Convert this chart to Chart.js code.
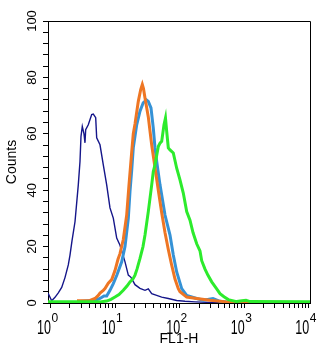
<!DOCTYPE html>
<html><head><meta charset="utf-8">
<script src="https://cdn.jsdelivr.net/npm/chart.js@4.4.1/dist/chart.umd.min.js"></script>
<style>html,body{margin:0;padding:0;background:#fff;}canvas{display:block;}</style>
</head><body>
<canvas id="c" width="329" height="354"></canvas>
<script>
const FONT = '"Liberation Sans", Arial, Helvetica, sans-serif';

// X tick decades (labels 10^n) and y tick labels
const xDecades = [0, 1, 2, 3, 4];
const yLabels = [0, 20, 40, 60, 80, 100];

// Series: FL1-H values (x) and counts (y)
const navyX = [0.915,1.044,1.174,1.321,1.491,1.677,1.887,2.005,2.153,2.397,2.696,2.864,2.969,3.110,3.304,3.423,3.510,3.850,4.348,4.604,5.014,5.196,5.846,6.577,7.424,8.351,9.396,10.61,11.93,14.27,16.05,17.66,20.38,24.35,29.11,32.74,36.97,44.18,52.80,66.84,90.2,121.2,173.2,295.8,603.5,1760,10474];
const navyY = [3.5,0.8,2.0,3.6,5.5,9,13.5,17,22,28.8,41.9,50.2,59.1,62.6,60,56.8,61.5,63.2,66.8,67.0,65.7,58.6,56.1,49.0,41.9,33.7,30.1,23.0,20.5,14.6,9.9,9.1,6.5,5.2,4.5,5.0,3.3,2.7,2.1,1.6,0.9,0.6,0.4,0.2,0.05,0,0];

const lightBlueX = [2.864,4.891,5.846,6.742,7.424,8.351,9.396,10.72,12.68,14.27,16.05,17.04,18.11,19.17,21.64,24.35,27.30,30.71,32.74,36.05,39.14,41.59,44.18,49.72,59.40,71.03,79.88,90.17,107.8,128.8,184.0,232.9,329.2,422.6,536.6,862.5,10474];
const lightBlueY = [0.5,1.0,1.6,2.5,2.5,4.5,6.9,10,14.6,20,30,39.5,47,55,63.2,68,71,72,71.5,69.2,62,55,50.2,41.9,31.2,24.1,17,11,5.1,2.7,1.6,1.0,1.6,0.6,0.4,0.1,0];

const orangeX = [2.573,4.092,4.891,5.502,5.846,6.577,6.988,7.860,8.875,9.98,11.11,11.93,13.42,15.15,16.4,18.11,19.17,20.38,22.92,24.97,26.43,27.59,29.11,30.93,32.74,34.79,36.97,41.59,46.78,52.80,59.40,66.84,75.44,84.87,95.48,101.4,128.8,184.0,295.8,536.6,862.5,10474];
const orangeY = [0.8,0.9,1.6,2.7,3.5,4.5,5.1,7.0,8.3,11.5,15.5,17.5,22.5,31.2,41.5,53.5,60,63.5,71.5,75.7,77.5,76,72.7,69.2,66,61,56,48,40,32,25,19,13.4,8.5,5.1,4.0,2.1,1.6,1.0,0.4,0.1,0];

const greenX = [0.915,5.846,7.424,8.656,9.98,11.51,13.42,15.31,17.04,19.17,20.38,21.88,24.35,27.10,29.11,32.74,36.97,39.14,41.59,46.78,49.72,52.80,57.32,60.46,63.11,66.84,71.03,79.88,90.17,101.4,114.1,128.8,144.9,161.3,184.0,207.0,220.0,247.5,275.4,314.4,375.7,422.6,487.4,568.2,766.6,926.1,1068,1232,10474];
const greenY = [0.4,0.4,0.7,1.3,2.1,3.0,4.5,6.0,7.5,8.7,9.9,12,15.8,20,24.1,32.4,41.9,46.6,49,55.5,56.7,57.3,63.2,65.6,60.9,55,54.3,53.2,47.8,43.7,39,32.4,29.4,25,21,18.5,15,12,9.8,7.5,5,3.3,2.2,1.2,0.5,0.8,1.0,0.5,0.4];

const pts = (xs, ys) => xs.map((x, i) => ({x: x, y: ys[i]}));

// log minor ticks 1..9 per decade
const xTickValues = [];
xDecades.forEach(p => {
  if (p === xDecades[xDecades.length - 1]) { xTickValues.push(Math.pow(10, p)); return; }
  for (let k = 1; k <= 9; k++) xTickValues.push(k * Math.pow(10, p));
});

const frameAndLabels = {
  id: 'frameAndLabels',
  afterDraw(chart) {
    const {ctx, chartArea: a, scales: {x}} = chart;
    ctx.save();
    ctx.strokeStyle = '#000';
    ctx.lineWidth = 1;
    ctx.beginPath();
    ctx.moveTo(Math.round(a.left), Math.round(a.top) + 0.5);
    ctx.lineTo(Math.round(a.right) + 0.5, Math.round(a.top) + 0.5);
    ctx.lineTo(Math.round(a.right) + 0.5, Math.round(a.bottom));
    ctx.stroke();
    ctx.fillStyle = '#000';
    ctx.textBaseline = 'alphabetic';
    xDecades.forEach(p => {
      const px = x.getPixelForValue(Math.pow(10, p));
      ctx.save();
      ctx.translate(px + 0.5, 334);
      ctx.scale(1, 1.64);
      ctx.font = '12.5px ' + FONT;
      ctx.textAlign = 'right';
      ctx.fillText('10', 0, 0);
      ctx.restore();
      ctx.font = '12px ' + FONT;
      ctx.textAlign = 'left';
      ctx.fillText(String(p), px + 1, 322);
    });
    ctx.restore();
  }
};

const lineDs = (label, xs, ys, color, width, order) => ({
  label: label, data: pts(xs, ys), showLine: true, borderColor: color, backgroundColor: color,
  borderWidth: width, pointRadius: 0, tension: 0, order: order, fill: false
});

new Chart(document.getElementById('c'), {
  type: 'scatter',
  data: {
    datasets: [
      lineDs('green', greenX, greenY, '#2CEB2C', 3, 0),
      lineDs('orange', orangeX, orangeY, '#EE7624', 3, 1),
      lineDs('lightblue', lightBlueX, lightBlueY, '#3592D6', 3, 2),
      lineDs('navy', navyX, navyY, '#15168A', 1.4, 3)
    ]
  },
  options: {
    responsive: false,
    animation: false,
    devicePixelRatio: 1,
    layout: {padding: {top: 21, right: 19, left: 0, bottom: 0}},
    plugins: {legend: {display: false}, tooltip: {enabled: false}},
    scales: {
      x: {
        type: 'logarithmic', min: 0.915, max: 10474,
        afterBuildTicks: s => { s.ticks = xTickValues.map(v => ({value: v})); },
        afterFit: s => { s.height = 51; },
        ticks: {display: false},
        grid: {display: true, drawOnChartArea: false, drawTicks: true, tickLength: 5, color: '#000', tickColor: '#000', tickWidth: 1},
        border: {display: true, color: '#000', width: 1},
        title: {display: true, text: 'FL1-H', color: '#000', font: {family: FONT, size: 14}, padding: {top: 0, bottom: 6}}
      },
      y: {
        min: 0, max: 100,
        afterFit: s => { s.width = 48; },
        ticks: {
          stepSize: 4, autoSkip: false, minRotation: 90, maxRotation: 90, crossAlign: 'center', padding: 0,
          color: '#000', font: {family: FONT, size: 13},
          callback: v => (yLabels.includes(v) ? String(v) : '')
        },
        grid: {display: true, drawOnChartArea: false, drawTicks: true, tickLength: 5, color: '#000', tickColor: '#000', tickWidth: 1},
        border: {display: true, color: '#000', width: 1},
        title: {display: true, text: 'Counts', color: '#000', font: {family: FONT, size: 14}, padding: {top: 4, bottom: 0}}
      }
    }
  },
  plugins: [frameAndLabels]
});
</script>
</body></html>
